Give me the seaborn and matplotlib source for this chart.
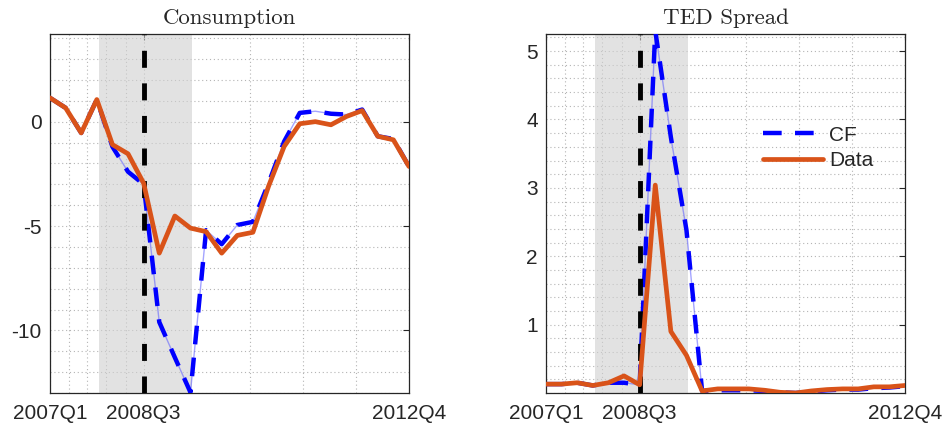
import numpy as np
import pandas as pd
import seaborn as sns
import matplotlib.pyplot as plt
from matplotlib.ticker import FixedLocator, MultipleLocator

# quarters 2007Q1 .. 2012Q4
quarters = pd.period_range('2007Q1', '2012Q4', freq='Q').astype(str).tolist()
tick_quarters = ['2007Q1', '2008Q3', '2012Q4']
event_quarter = '2008Q3'
recession = (3.15, 9.1)   # shaded span, in quarter index units

cons_data = [1.14, 0.66, -0.54, 1.06, -1.1, -1.54, -2.95, -6.3, -4.52, -5.1, -5.27, -6.3,
             -5.45, -5.3, -3.1, -1.19, -0.1, 0.0, -0.15, 0.25, 0.53, -0.7, -0.87, -2.15]
cons_cf = [1.14, 0.66, -0.54, 1.06, -1.2, -2.4, -3.0, -9.6, -11.3, -12.97, -5.2, -5.87,
           -4.95, -4.8, -2.95, -0.95, 0.42, 0.5, 0.38, 0.34, 0.58, -0.7, -0.83, -2.15]

ted_data = [0.13, 0.13, 0.15, 0.11, 0.15, 0.25, 0.12, 3.04, 0.9, 0.55, 0.03, 0.06,
            0.06, 0.06, 0.04, 0.01, 0.0, 0.03, 0.05, 0.06, 0.06, 0.09, 0.09, 0.11]
ted_cf = [0.13, 0.13, 0.15, 0.11, 0.15, 0.15, 0.12, 5.3, 3.74, 2.38, 0.03, 0.04,
          0.04, 0.04, 0.03, 0.01, 0.0, 0.02, 0.04, 0.05, 0.05, 0.07, 0.08, 0.1]

sns.set_style("white")
plt.rcParams['font.family'] = ['Liberation Sans', 'DejaVu Sans']

BLUE = '#0000ff'
ORANGE = '#D95319'

fig = plt.figure(figsize=(9.44, 4.29), dpi=100)
ax1 = fig.add_axes([50/944, 36/429, 359/944, 359/429])
ax2 = fig.add_axes([546/944, 36/429, 359/944, 359/429])

xi = np.arange(len(quarters))
grid_x = [1.22, 2.4, 3.6, 4.85, 12.8, 16.2, 19.6]

def panel(ax, data, cf, title, ylim, yticks, minor_step):
    ax.set_axisbelow(True)
    ax.axvspan(recession[0], recession[1], facecolor='#d0d0d0', alpha=0.6, lw=0, zorder=1)
    ax.axvline(quarters.index(event_quarter), color='black', lw=3.5,
               linestyle=(0, (3.5, 3.2)), zorder=5)
    # thin CF line under the dashed one
    sns.lineplot(x=xi, y=cf, ax=ax, color='#5a5aff', lw=1.0, alpha=0.55, zorder=3)
    sns.lineplot(x=xi, y=cf, ax=ax, color=BLUE, lw=3.2, linestyle=(0, (4.2, 3.0)),
                 zorder=4, label='CF')
    sns.lineplot(x=xi, y=data, ax=ax, color=ORANGE, lw=3.4, zorder=6, label='Data')
    ax.set_xlim(0, len(quarters) - 1)
    ax.set_ylim(*ylim)
    ax.set_xticks([quarters.index(q) for q in tick_quarters])
    ax.set_xticklabels(tick_quarters, fontsize=15, color='#262626')
    ax.set_yticks(yticks)
    ax.set_yticklabels([('%g' % v).replace('\u2212', '-') for v in yticks],
                       fontsize=15, color='#262626')
    ax.xaxis.set_minor_locator(FixedLocator(grid_x))
    ax.yaxis.set_minor_locator(MultipleLocator(minor_step))
    ax.grid(True, which='both', linestyle=(0, (1, 2.5)), color='#b4b4b4', lw=0.8)
    ax.tick_params(which='major', direction='in', length=4, width=0.8,
                   top=True, right=True, pad=8, color='#262626')
    ax.tick_params(axis='y', pad=6)
    ax.tick_params(which='minor', length=0)
    for s in ax.spines.values():
        s.set_color('#262626')
        s.set_linewidth(0.9)
    ax.set_title(title, family='cmr10', fontsize=16.5, pad=7)
    ax.set_xlabel('')
    ax.set_ylabel('')

panel(ax1, cons_data, cons_cf, 'Consumption', (-13.0, 4.2), [-10, -5, 0], 1.0)
panel(ax2, ted_data, ted_cf, 'TED Spread', (0.0, 5.25), [1, 2, 3, 4, 5], 0.2)

ax1.get_legend().remove()
ax2.legend(loc='upper left', bbox_to_anchor=(0.58, 0.768), frameon=False,
           fontsize=15, handlelength=2.9, handletextpad=0.3, labelspacing=0.3,
           borderaxespad=0)

fig.savefig('out.png', dpi=100)
